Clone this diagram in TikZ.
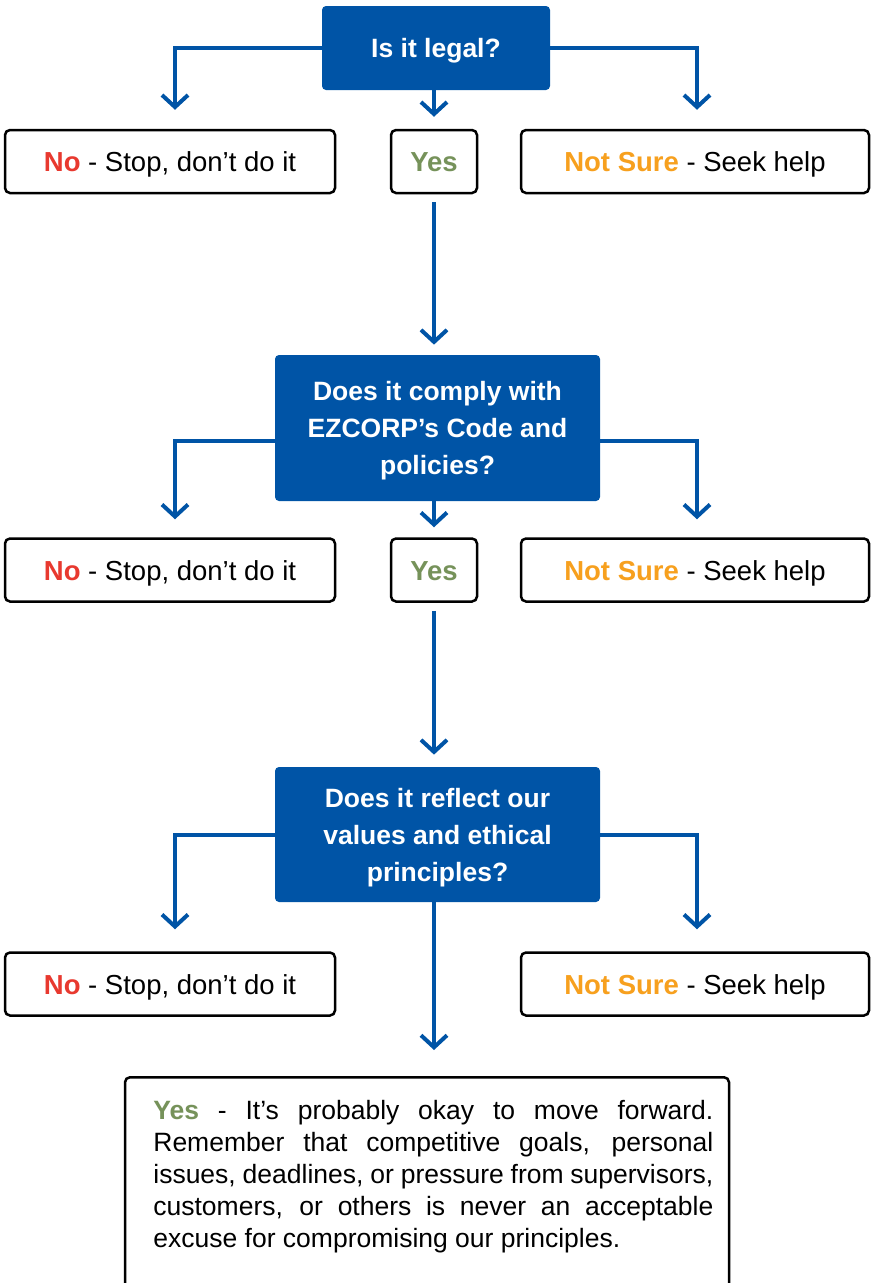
\documentclass[tikz,border=0pt]{standalone}
\usepackage{fontspec}
\setmainfont{Liberation Sans}
\usetikzlibrary{arrows.meta}
\definecolor{ezblue}{RGB}{0,84,166}
\definecolor{ezred}{RGB}{232,57,47}
\definecolor{ezorange}{RGB}{247,160,30}
\definecolor{ezgreen}{RGB}{118,146,90}
\tikzset{every picture/.style={line width=0.75pt}}

\begin{document}
\begin{tikzpicture}[x=1pt,y=1pt,yscale=-1,xscale=1,
  question/.style={fill=ezblue, rounded corners=4pt, text=white, align=center, inner sep=0pt,
    text depth=0pt, font=\fontsize{26.5}{37}\selectfont\bfseries},
  answer/.style={draw=black, line width=2.5pt, rounded corners=5pt, fill=white, inner sep=0pt,
    minimum height=63pt, text height=22pt, text depth=2pt, font=\fontsize{27.5}{30}\selectfont},
  flow/.style={draw=ezblue, line width=4pt, -{Straight Barb[length=12pt,width=26pt,line width=4pt]}}
]
\useasboundingbox (0,0) rectangle (872,1283);

%Shape: Question 1
\node[question, minimum width=228pt, minimum height=84pt] (legal) at (436,48) {Is it legal?};
%Shape: Answers 1
\node[answer, minimum width=330pt] (no1) at (170,161.5) {\textcolor{ezred}{\bfseries No} - Stop, don’t do it};
\node[answer, minimum width=86pt] (yes1) at (434,161.5) {\textcolor{ezgreen}{\bfseries Yes}};
\node[answer, minimum width=348pt] (sure1) at (695,161.5) {\textcolor{ezorange}{\bfseries Not Sure} - Seek help};

%Shape: Question 2
\node[question, minimum width=325pt, minimum height=146pt] (comply) at (437.5,428) {Does it comply with\\EZCORP’s Code and\\policies?};
%Shape: Answers 2
\node[answer, minimum width=330pt] (no2) at (170,570) {\textcolor{ezred}{\bfseries No} - Stop, don’t do it};
\node[answer, minimum width=86pt] (yes2) at (434,570) {\textcolor{ezgreen}{\bfseries Yes}};
\node[answer, minimum width=348pt] (sure2) at (695,570) {\textcolor{ezorange}{\bfseries Not Sure} - Seek help};

%Shape: Question 3
\node[question, minimum width=325pt, minimum height=135pt] (values) at (437.5,834.5) {Does it reflect our\\values and ethical\\principles?};
%Shape: Answers 3
\node[answer, minimum width=330pt] (no3) at (170,984) {\textcolor{ezred}{\bfseries No} - Stop, don’t do it};
\node[answer, minimum width=348pt] (sure3) at (695,984) {\textcolor{ezorange}{\bfseries Not Sure} - Seek help};

%Shape: Final answer
\node[answer, anchor=north, minimum width=604pt, minimum height=260pt] (final) at (427,1076) {};
% Text Node
\node[anchor=north west, inner sep=0pt, text width=560pt, align=justify,
  font=\fontsize{26.5}{32}\selectfont] (finaltext) at (153,1100)
  {\textcolor{ezgreen}{\bfseries Yes} - It’s probably okay to move forward.\linebreak
   Remember that competitive goals, personal\linebreak
   issues, deadlines, or pressure from supervisors,\linebreak
   customers, or others is never an acceptable\linebreak
   excuse for compromising our principles.};

%Connectors
\draw[flow] (legal.west) -| ([xshift=5pt,yshift=-19pt]no1.north);
\draw[flow] (legal.east) -| ([xshift=2pt,yshift=-19pt]sure1.north);
\draw[flow] (legal.south -| yes1.north) -- ([yshift=-12pt]yes1.north);
\draw[flow, shorten <=8pt] (yes1.south) -- ([yshift=-10pt]yes1.south |- comply.north);

\draw[flow] ([yshift=13pt]comply.west) -| ([xshift=5pt,yshift=-18pt]no2.north);
\draw[flow] ([yshift=13pt]comply.east) -| ([xshift=2pt,yshift=-18pt]sure2.north);
\draw[flow] (comply.south -| yes2.north) -- ([yshift=-10pt]yes2.north);
\draw[flow, shorten <=8pt] (yes2.south) -- ([yshift=-12pt]yes2.south |- values.north);

\draw[flow] (values.west) -| ([xshift=5pt,yshift=-22pt]no3.north);
\draw[flow] (values.east) -| ([xshift=2pt,yshift=-22pt]sure3.north);
\draw[flow] (values.south -| yes2.south) -- ([yshift=-26pt]yes2.south |- final.north);

\end{tikzpicture}
\end{document}
